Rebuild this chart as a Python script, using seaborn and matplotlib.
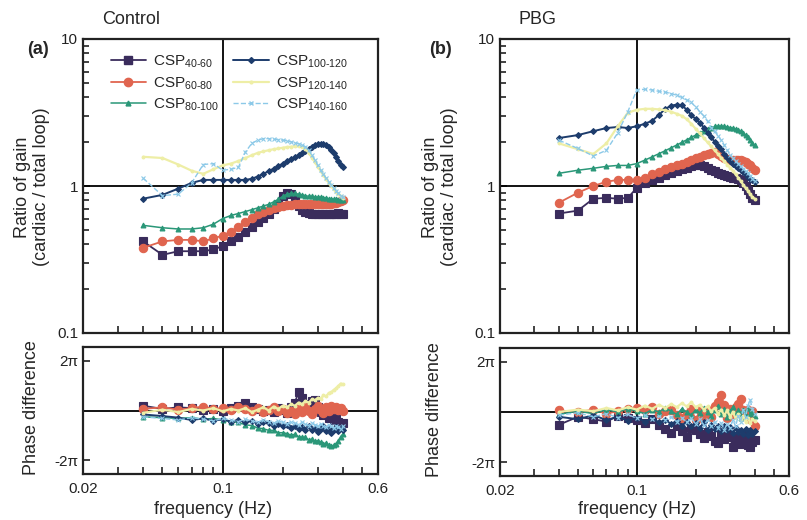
import matplotlib
matplotlib.use("Agg")
import matplotlib.pyplot as plt
import seaborn as sns
import pandas as pd
from matplotlib.ticker import FixedLocator, NullFormatter, FixedFormatter

# ---------------- data ----------------
freq = [0.04, 0.05, 0.06, 0.07, 0.08, 0.09, 0.10, 0.11, 0.12, 0.13, 0.14, 0.15,
        0.16, 0.17, 0.18, 0.19, 0.20, 0.21, 0.22, 0.23, 0.24, 0.25, 0.26, 0.27,
        0.28, 0.29, 0.30, 0.31, 0.32, 0.33, 0.34, 0.35, 0.36, 0.37, 0.38, 0.39, 0.40]

series_names = ["CSP$_{\\text{40-60}}$", "CSP$_{\\text{60-80}}$",
                "CSP$_{\\text{80-100}}$", "CSP$_{\\text{100-120}}$",
                "CSP$_{\\text{120-140}}$", "CSP$_{\\text{140-160}}$"]

# Control: gain ratio
gain_a_40_60 = [0.42, 0.34, 0.36, 0.36, 0.36, 0.37, 0.39, 0.42, 0.45, 0.49, 0.53, 0.57, 0.61, 0.65,
                0.70, 0.76, 0.86, 0.90, 0.88, 0.80, 0.73, 0.69, 0.67, 0.66, 0.65, 0.64, 0.64, 0.64,
                0.65, 0.65, 0.64, 0.64, 0.65, 0.65, 0.66, 0.65, 0.65]
gain_a_60_80 = [0.38, 0.42, 0.43, 0.43, 0.42, 0.44, 0.46, 0.49, 0.53, 0.57, 0.61, 0.64, 0.67, 0.69,
                0.71, 0.72, 0.73, 0.74, 0.74, 0.75, 0.75, 0.75, 0.75, 0.75, 0.75, 0.75, 0.75, 0.75,
                0.75, 0.75, 0.76, 0.76, 0.77, 0.77, 0.78, 0.79, 0.80]
gain_a_80_100 = [0.54, 0.52, 0.51, 0.51, 0.52, 0.55, 0.60, 0.63, 0.65, 0.67, 0.69, 0.71, 0.73, 0.75,
                 0.78, 0.81, 0.85, 0.88, 0.89, 0.89, 0.88, 0.87, 0.86, 0.85, 0.85, 0.84, 0.84, 0.84,
                 0.83, 0.83, 0.82, 0.82, 0.81, 0.81, 0.80, 0.80, 0.80]
gain_a_100_120 = [0.82, 0.87, 0.96, 1.05, 1.10, 1.10, 1.10, 1.10, 1.10, 1.10, 1.12, 1.16, 1.21, 1.26,
                  1.31, 1.36, 1.42, 1.47, 1.52, 1.57, 1.62, 1.67, 1.72, 1.78, 1.84, 1.89, 1.92, 1.94,
                  1.93, 1.90, 1.84, 1.77, 1.68, 1.58, 1.48, 1.40, 1.35]
gain_a_120_140 = [1.58, 1.55, 1.40, 1.27, 1.21, 1.30, 1.38, 1.42, 1.48, 1.55, 1.62, 1.68, 1.72, 1.75,
                  1.78, 1.80, 1.82, 1.84, 1.85, 1.86, 1.86, 1.84, 1.78, 1.68, 1.56, 1.45, 1.35, 1.26,
                  1.18, 1.11, 1.05, 1.00, 0.95, 0.91, 0.88, 0.85, 0.83]
gain_a_140_160 = [1.13, 0.86, 0.88, 1.05, 1.40, 1.42, 1.28, 1.30, 1.34, 1.70, 1.95, 2.05, 2.10, 2.10,
                  2.08, 2.07, 2.05, 2.03, 2.00, 1.97, 1.94, 1.90, 1.85, 1.75, 1.62, 1.50, 1.38, 1.28,
                  1.20, 1.13, 1.07, 1.02, 0.97, 0.93, 0.89, 0.86, 0.84]

# PBG: gain ratio
gain_b_40_60 = [0.65, 0.68, 0.82, 0.83, 0.82, 0.83, 0.97, 1.05, 1.10, 1.14, 1.18, 1.22, 1.26, 1.30,
                1.33, 1.36, 1.38, 1.38, 1.36, 1.32, 1.29, 1.26, 1.23, 1.21, 1.19, 1.17, 1.15, 1.14,
                1.13, 1.12, 1.10, 1.05, 1.00, 0.94, 0.88, 0.83, 0.80]
gain_b_60_80 = [0.77, 0.90, 1.00, 1.07, 1.10, 1.10, 1.10, 1.14, 1.20, 1.25, 1.30, 1.34, 1.38, 1.42,
                1.46, 1.50, 1.54, 1.58, 1.62, 1.65, 1.68, 1.70, 1.65, 1.60, 1.55, 1.52, 1.50, 1.50,
                1.50, 1.50, 1.50, 1.48, 1.45, 1.42, 1.38, 1.33, 1.28]
gain_b_80_100 = [1.22, 1.28, 1.32, 1.36, 1.38, 1.38, 1.42, 1.50, 1.58, 1.66, 1.74, 1.82, 1.90, 1.98,
                 2.06, 2.14, 2.22, 2.30, 2.38, 2.45, 2.50, 2.54, 2.55, 2.55, 2.54, 2.52, 2.50, 2.47,
                 2.44, 2.40, 2.35, 2.30, 2.22, 2.14, 2.05, 1.97, 1.90]
gain_b_100_120 = [2.12, 2.22, 2.36, 2.48, 2.52, 2.48, 2.55, 2.65, 2.78, 3.05, 3.35, 3.52, 3.58, 3.55,
                  3.30, 3.05, 2.85, 2.70, 2.50, 2.30, 2.15, 2.00, 1.88, 1.78, 1.66, 1.56, 1.48, 1.42,
                  1.37, 1.32, 1.28, 1.24, 1.20, 1.16, 1.12, 1.09, 1.06]
gain_b_120_140 = [1.95, 1.78, 1.65, 1.95, 2.55, 3.15, 3.30, 3.35, 3.35, 3.32, 3.28, 3.20, 3.10, 3.00,
                  2.85, 2.65, 2.45, 2.28, 2.12, 1.98, 1.86, 1.75, 1.65, 1.55, 1.47, 1.40, 1.33, 1.27,
                  1.20, 1.14, 1.08, 1.02, 0.97, 0.93, 0.88, 0.84, 0.82]
gain_b_140_160 = [2.05, 1.80, 1.60, 1.75, 2.30, 3.20, 4.50, 4.55, 4.50, 4.40, 4.35, 4.25, 4.15, 4.00,
                  3.85, 3.70, 3.45, 3.20, 3.00, 2.75, 2.50, 2.35, 2.20, 2.05, 1.90, 1.75, 1.63, 1.55,
                  1.48, 1.42, 1.36, 1.31, 1.27, 1.22, 1.17, 1.12, 1.08]

# Control: phase difference (rad)
phase_a_40_60 = [0.6, 0.2, 0.4, 0.3, 0.1, 0.2, 0.0, 0.3, 0.6, 0.9, 0.5, 0.2, 0.0, 0.1, -0.2, 0.3,
                 0.1, -0.3, 0.4, 1.0, 2.3, 1.6, 0.6, 0.8, 1.2, 1.3, 0.5, -0.2, -0.6, -0.3, -0.9,
                 -0.5, -1.2, -1.0, -1.5, -1.9, -1.6]
phase_a_60_80 = [0.2, 0.4, 0.1, 0.3, 0.5, 0.2, 0.3, 0.1, 0.4, 0.2, 0.0, 0.3, -0.2, 0.1, 0.4, -0.1,
                 0.2, -0.3, 0.0, -0.5, 0.3, -0.2, 0.5, 0.0, -0.4, 0.2, 0.6, 0.1, -0.3, 0.4, 0.0,
                 0.6, 0.2, 0.5, 0.1, 0.3, 0.0]
phase_a_80_100 = [-0.8, -0.9, -1.0, -0.9, -1.1, -1.0, -1.2, -1.4, -1.5, -1.8, -1.9, -2.2, -2.3, -2.5,
                  -2.5, -2.8, -2.8, -2.9, -3.1, -3.0, -3.3, -3.4, -3.4, -3.7, -3.6, -3.9, -3.8, -4.0,
                  -4.2, -4.1, -4.3, -4.5, -4.4, -4.2, -3.8, -3.3, -3.0]
phase_a_100_120 = [-0.5, -0.7, -0.9, -1.2, -1.0, -1.3, -1.1, -1.4, -1.2, -1.5, -1.3, -1.7, -1.4, -1.6,
                   -1.9, -1.7, -2.0, -1.8, -2.2, -1.9, -2.3, -2.1, -2.4, -2.0, -2.5, -2.2, -2.7, -2.3,
                   -2.0, -2.6, -2.2, -2.8, -2.4, -2.1, -2.6, -2.2, -2.5]
phase_a_120_140 = [-0.3, 0.1, -0.2, 0.2, 0.0, 0.3, -0.1, 0.2, 0.0, 0.3, -0.2, 0.1, 0.4, 0.0, 0.5,
                   0.2, 0.6, 0.4, 0.8, 0.6, 1.0, 0.8, 1.2, 1.0, 1.4, 1.3, 1.6, 1.5, 1.9, 1.8, 2.2,
                   2.3, 2.6, 2.8, 3.1, 3.4, 3.3]
phase_a_140_160 = [-0.8, -1.0, -1.2, -0.9, -1.1, -1.3, -1.0, -1.2, -1.4, -1.1, -1.3, -1.5, -1.2,
                   -1.4, -1.6, -1.3, -1.5, -1.7, -1.4, -1.6, -1.8, -1.5, -1.7, -1.9, -1.6, -1.8,
                   -2.0, -1.7, -1.9, -2.1, -1.8, -2.0, -2.2, -1.9, -2.1, -2.3, -2.0]

# PBG: phase difference (rad)
phase_b_40_60 = [-1.6, -0.6, -0.9, -1.2, -0.5, -0.8, -1.0, -1.4, -0.9, -1.6, -2.1, -2.6, -1.8, -2.4,
                 -3.1, -2.0, -2.2, -2.8, -3.3, -2.5, -3.0, -3.6, -3.9, -2.8, -3.4, -2.6, -3.1, -4.4,
                 -3.8, -3.2, -4.0, -3.5, -2.9, -4.1, -4.4, -3.7, -3.5]
phase_b_60_80 = [0.2, 0.0, 0.3, -0.2, 0.1, 0.4, 0.5, 0.2, 0.6, -0.3, 0.1, 0.3, -0.4, -0.8, -0.2,
                 0.4, -1.0, 0.2, -0.5, 0.3, -0.6, 0.8, 1.2, 2.1, 0.9, -0.8, 0.4, -0.3, 0.6, 1.0, 1.6,
                 0.3, -0.5, 0.2, -0.9, 0.1, -1.7]
phase_b_80_100 = [-0.3, 0.1, -0.2, 0.3, 0.0, 0.4, 0.1, -0.2, 0.3, 0.0, 0.5, 0.1, -0.3, 0.4, 0.0,
                  -0.4, 0.3, -0.1, 0.5, 0.0, -0.5, 0.2, 0.7, -0.2, 0.4, -0.6, 0.1, 0.6, -0.3, 0.2,
                  -0.7, 0.3, -0.4, 0.5, -0.2, 0.0, -0.5]
phase_b_100_120 = [-0.6, -0.9, -0.4, -1.0, -0.6, -1.1, -0.7, -1.2, -0.8, -1.3, -1.0, -1.5, -1.1,
                   -1.7, -1.2, -1.8, -1.4, -2.0, -1.3, -2.2, -1.6, -2.1, -1.7, -2.4, -1.8, -2.3,
                   -1.9, -2.6, -2.0, -2.5, -2.2, -2.8, -2.1, -2.9, -2.3, -2.7, -2.4]
phase_b_120_140 = [0.0, 0.3, 0.1, 0.5, 0.2, 0.6, 0.3, 0.8, 0.4, 0.9, 0.5, 1.0, 0.6, 1.1, 0.7, 1.2,
                   0.6, 0.9, 0.3, 0.7, 0.1, 0.5, -0.2, 0.3, -0.4, 0.2, -0.6, 0.0, -0.8, -0.3, -1.0,
                   -0.5, -1.2, -0.7, -1.4, -0.9, -1.1]
phase_b_140_160 = [-0.4, -0.1, -0.6, -0.2, -0.7, -0.3, -0.8, -0.4, -0.9, -0.5, -1.0, -0.6, -1.2,
                   -0.7, -1.3, -0.8, -1.5, -0.9, -1.6, -1.0, -1.8, -1.2, -2.0, -1.4, -2.2, -1.5,
                   -2.0, -1.0, -1.8, -0.5, -1.2, 0.3, -0.6, 0.8, 1.5, 0.4, -0.3]

gain_a = [gain_a_40_60, gain_a_60_80, gain_a_80_100, gain_a_100_120, gain_a_120_140, gain_a_140_160]
gain_b = [gain_b_40_60, gain_b_60_80, gain_b_80_100, gain_b_100_120, gain_b_120_140, gain_b_140_160]
phase_a = [phase_a_40_60, phase_a_60_80, phase_a_80_100, phase_a_100_120, phase_a_120_140, phase_a_140_160]
phase_b = [phase_b_40_60, phase_b_60_80, phase_b_80_100, phase_b_100_120, phase_b_120_140, phase_b_140_160]

# ---------------- style ----------------
styles = [
    dict(color="#3a2c5c", marker="s", markersize=5.5, lw=1.3, ls="-"),
    dict(color="#e0654f", marker="o", markersize=6.0, lw=1.3, ls="-"),
    dict(color="#2a9778", marker="^", markersize=3.5, lw=1.1, ls="-"),
    dict(color="#1d3c6c", marker="D", markersize=3.0, lw=1.4, ls="-"),
    dict(color="#eeeea6", marker=".", markersize=4.0, lw=1.6, ls="-"),
    dict(color="#8cc9e8", marker="x", markersize=3.5, lw=1.0, ls="--"),
]

sns.set_theme(style="ticks")
plt.rcParams["font.family"] = ["Liberation Sans", "DejaVu Sans"]
plt.rcParams["mathtext.fontset"] = "custom"
plt.rcParams["mathtext.rm"] = "Liberation Sans"

W, H = 807, 520
fig = plt.figure(figsize=(W / 100, H / 100), dpi=100)


def box(l, t, r, b):
    return [l / W, 1 - b / H, (r - l) / W, (b - t) / H]


ax_ga = fig.add_axes(box(83, 39, 378, 333))
ax_pa = fig.add_axes(box(83, 347, 378, 474))
ax_gb = fig.add_axes(box(500, 39, 789, 333))
ax_pb = fig.add_axes(box(500, 348, 789, 476))

minor_x = [0.03, 0.04, 0.05, 0.06, 0.07, 0.08, 0.09, 0.2, 0.3, 0.4, 0.5]
minor_y = [0.2, 0.3, 0.4, 0.5, 0.6, 0.7, 0.8, 0.9, 2, 3, 4, 5, 6, 7, 8, 9]


def draw(ax, data, kind):
    for name, vals, st in zip(series_names, data, styles):
        df = pd.DataFrame({"f": freq, "v": vals})
        sns.lineplot(data=df, x="f", y="v", ax=ax, label=name, color=st["color"],
                     marker=st["marker"], markersize=st["markersize"], linewidth=st["lw"],
                     linestyle=st["ls"], markeredgecolor=st["color"], markeredgewidth=0.8,
                     legend=False)
    ax.set_xscale("log")
    ax.set_xlim(0.02, 0.6)
    ax.axvline(0.1, color="black", lw=1.3, zorder=1)
    ax.xaxis.set_major_locator(FixedLocator([0.02, 0.1, 0.6]))
    ax.xaxis.set_minor_locator(FixedLocator(minor_x))
    ax.xaxis.set_minor_formatter(NullFormatter())
    if kind == "gain":
        ax.set_yscale("log")
        ax.set_ylim(0.1, 10)
        ax.axhline(1, color="black", lw=1.3, zorder=1)
        ax.yaxis.set_major_locator(FixedLocator([0.1, 1, 10]))
        ax.yaxis.set_major_formatter(FixedFormatter(["0.1", "1", "10"]))
        ax.yaxis.set_minor_locator(FixedLocator(minor_y))
        ax.yaxis.set_minor_formatter(NullFormatter())
        ax.set_xticklabels([])
    else:
        ax.set_ylim(-8, 8)
        ax.axhline(0, color="black", lw=1.3, zorder=1)
        ax.set_yticks([-6.2832, 6.2832])
        ax.set_yticklabels(["-2\u03c0", "2\u03c0"], fontsize=10)
        ax.set_xticklabels(["0.02", "0.1", "0.6"])
    ax.set_xlabel("")
    ax.set_ylabel("")
    ax.tick_params(axis="both", which="both", direction="in", labelsize=11, colors="#222222")
    ax.tick_params(axis="x", which="major", length=0, pad=6)
    ax.tick_params(axis="x", which="minor", length=5, width=1.2)
    ax.tick_params(axis="y", which="major", length=5, width=1.2)
    ax.tick_params(axis="y", which="minor", length=4, width=1.2)
    for s in ax.spines.values():
        s.set_linewidth(1.6)
        s.set_color("#222222")


draw(ax_ga, gain_a, "gain")
draw(ax_pa, phase_a, "phase")
draw(ax_gb, gain_b, "gain")
draw(ax_pb, phase_b, "phase")

# legend in control panel
handles = [plt.Line2D([], [], color=st["color"], marker=st["marker"], markersize=st["markersize"],
                      lw=st["lw"], ls=st["ls"], markeredgecolor=st["color"]) for st in styles]
fig.legend(handles, series_names, loc="upper left", bbox_to_anchor=(103 / W, 1 - 46 / H),
           ncol=2, frameon=False, fontsize=11, handlelength=2.3, labelspacing=0.3,
           columnspacing=0.9, handletextpad=0.5, borderpad=0.0)

# texts
fig.text(131 / W, 1 - 20 / H, "Control", ha="center", va="center", fontsize=13)
fig.text(537 / W, 1 - 20 / H, "PBG", ha="center", va="center", fontsize=13)
fig.text(38 / W, 1 - 50 / H, "(a)", ha="center", va="center", fontsize=13, fontweight="bold")
fig.text(441 / W, 1 - 50 / H, "(b)", ha="center", va="center", fontsize=13, fontweight="bold")
fig.text(32 / W, 1 - 187 / H, "Ratio of gain\n(cardiac / total loop)", rotation=90,
         ha="center", va="center", fontsize=13, linespacing=1.15)
fig.text(440 / W, 1 - 187 / H, "Ratio of gain\n(cardiac / total loop)", rotation=90,
         ha="center", va="center", fontsize=13, linespacing=1.15)
fig.text(31 / W, 1 - 408 / H, "Phase difference", rotation=90, ha="center", va="center",
         fontsize=13)
fig.text(435 / W, 1 - 410 / H, "Phase difference", rotation=90, ha="center", va="center",
         fontsize=13)
fig.text(213 / W, 1 - 510 / H, "frequency (Hz)", ha="center", va="center", fontsize=13)
fig.text(637 / W, 1 - 510 / H, "frequency (Hz)", ha="center", va="center", fontsize=13)

fig.savefig("out.png", dpi=100, facecolor="white")
